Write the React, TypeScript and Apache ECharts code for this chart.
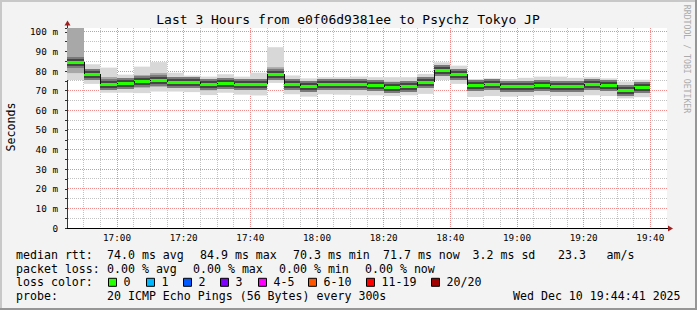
import React, { useEffect, useRef } from "react";
import * as echarts from "echarts";

// ---------- data ----------
const title = "Last 3 Hours from e0f06d9381ee to Psychz Tokyo JP";
const yAxisName = "Seconds";
const watermark = "RRDTOOL / TOBI OETIKER";
const timeRange = ["16:45", "19:45"];
const binStep = 5; // minutes per probe round (300 s)
const yMax = 102;

const binTimes = [
  "16:45", "16:50", "16:55",
  "17:00", "17:05", "17:10", "17:15", "17:20", "17:25", "17:30", "17:35", "17:40", "17:45", "17:50", "17:55",
  "18:00", "18:05", "18:10", "18:15", "18:20", "18:25", "18:30", "18:35", "18:40", "18:45", "18:50", "18:55",
  "19:00", "19:05", "19:10", "19:15", "19:20", "19:25", "19:30", "19:35",
];

const medianRtt = [
  84.9, 78.4, 73.5, 73.8, 75.0, 75.5, 74.6, 74.5, 73.2, 74.2, 73.3, 73.2,
  78.6, 73.5, 72.3, 73.3, 73.3, 73.3, 72.8, 72.0, 72.6, 74.4, 80.6, 78.6,
  72.8, 73.3, 72.3, 72.3, 72.8, 72.5, 72.5, 73.3, 72.8, 70.3, 71.7,
];
const smokeMax = [
  103, 83.5, 81.8, 78.2, 82.3, 84.6, 79.2, 77.7, 77.2, 78.4, 77.2, 79.2,
  92.2, 77.8, 76.3, 76.9, 76.9, 77.2, 76.9, 76.9, 76.9, 78.6, 84.5, 82.8,
  76.0, 76.3, 76.0, 76.6, 77.2, 77.2, 76.6, 76.9, 76.3, 74.7, 75.6,
];
const smokeUpper = [
  103, 81.0, 77.0, 76.0, 78.0, 79.0, 77.0, 76.0, 75.5, 76.5, 75.5, 76.0,
  82.0, 76.0, 74.6, 75.3, 75.3, 75.3, 75.0, 74.6, 74.8, 76.6, 82.6, 80.8,
  74.8, 75.2, 74.5, 74.6, 75.0, 74.8, 74.6, 75.3, 74.8, 72.6, 73.8,
];
const smokeLower = [
  79.0, 76.0, 71.0, 71.5, 71.5, 72.0, 72.0, 71.8, 70.2, 71.5, 70.5, 70.5,
  76.0, 71.0, 69.8, 70.6, 70.6, 70.5, 70.2, 69.6, 70.2, 71.6, 77.8, 75.8,
  70.0, 70.5, 69.6, 69.6, 70.2, 69.8, 69.8, 70.6, 70.2, 67.8, 69.2,
];
const smokeMin = [
  75.5, 73.5, 69.0, 69.0, 68.8, 69.6, 69.6, 69.3, 67.8, 69.0, 68.0, 67.6,
  74.0, 68.2, 67.0, 68.2, 68.0, 67.7, 67.7, 67.3, 67.7, 68.4, 75.5, 73.5,
  66.8, 67.3, 67.0, 67.3, 67.7, 67.3, 67.3, 67.7, 67.3, 66.1, 66.7,
];

const xTickLabels = ["17:00", "17:20", "17:40", "18:00", "18:20", "18:40", "19:00", "19:20", "19:40"];
const yTickLabels = ["0", "10 m", "20 m", "30 m", "40 m", "50 m", "60 m", "70 m", "80 m", "90 m", "100 m"];

const rttLabel = "median rtt:";
const rttStats = ["74.0 ms avg", "84.9 ms max", "70.3 ms min", "71.7 ms now", "3.2 ms sd", "23.3", "am/s"];
const lossLabel = "packet loss:";
const lossStats = ["0.00 % avg", "0.00 % max", "0.00 % min", "0.00 % now"];
const colorLabel = "loss color:";
const lossLabels = ["0", "1", "2", "3", "4-5", "6-10", "11-19", "20/20"];
const lossColors = ["#26ff00", "#00b8ff", "#0059ff", "#7e00ff", "#ff00ff", "#ff5500", "#ff0000", "#a10000"];
const probeLabel = "probe:";
const probeText = "20 ICMP Echo Pings (56 Bytes) every 300s";
const stampText = "Wed Dec 10 19:44:41 2025";

// ---------- layout ----------
const W = 697;
const H = 310;
const GL = 67;
const GT = 28;
const GW = 600;
const GH = 200;
const MONO = "DejaVu Sans Mono";
const LEG_FS = 11.6;
const LEG_CW = LEG_FS * 0.602;
const rttStatX = [107, 200, 293, 383, 472.5, 558, 606.5];
const lossStatX = [107, 193, 279, 365];
const lossBoxX = [108, 146, 183, 220, 258, 308, 366, 431];
const rowY = [255, 268.5, 282.3, 295.8];
const MINOR = "#c2c2c2";
const MAJOR = "#f08c8c";

const toMin = (s: string) => {
  const [h, m] = s.split(":").map(Number);
  return h * 60 + m;
};
const fmt = (v: number) => {
  const h = Math.floor(v / 60);
  const m = Math.round(v - h * 60);
  return `${h}:${m < 10 ? "0" + m : m}`;
};

function words(text: string, x: number, y: number, fill = "#000") {
  const out: any[] = [];
  const re = /\S+/g;
  let m: RegExpExecArray | null;
  while ((m = re.exec(text))) {
    out.push({
      type: "text",
      x: x + m.index * LEG_CW,
      y,
      silent: true,
      style: { text: m[0], fontFamily: MONO, fontSize: LEG_FS, fill, verticalAlign: "middle", align: "left" },
    });
  }
  return out;
}

function buildGraphic() {
  const g: any[] = [];
  // bevel border
  g.push({ type: "rect", shape: { x: 0, y: 0, width: W, height: 2 }, style: { fill: "#c8c8c8" }, silent: true });
  g.push({ type: "rect", shape: { x: 0, y: 0, width: 2, height: H }, style: { fill: "#c8c8c8" }, silent: true });
  g.push({ type: "rect", shape: { x: 0, y: H - 2, width: W, height: 2 }, style: { fill: "#969696" }, silent: true });
  g.push({ type: "rect", shape: { x: W - 2, y: 0, width: 2, height: H }, style: { fill: "#969696" }, silent: true });
  // title
  g.push({
    type: "text", x: 348, y: 19, silent: true,
    style: { text: title, fontFamily: MONO, fontSize: 13, fill: "#000", align: "center", verticalAlign: "middle" },
  });
  // y axis name
  g.push({
    type: "text", x: 11, y: 127, rotation: Math.PI / 2, silent: true,
    style: { text: yAxisName, fontFamily: MONO, fontSize: LEG_FS, fill: "#000", align: "center", verticalAlign: "middle" },
  });
  // watermark
  g.push({
    type: "text", x: 687, y: 59, rotation: -Math.PI / 2, silent: true,
    style: { text: watermark, fontFamily: MONO, fontSize: 8.2, fill: "#ababab", align: "center", verticalAlign: "middle" },
  });
  // axis arrows
  g.push({ type: "line", shape: { x1: GL + 0.5, y1: GT, x2: GL + 0.5, y2: GT - 3 }, style: { stroke: "#333", lineWidth: 1 }, silent: true });
  g.push({ type: "polygon", shape: { points: [[GL + 0.5, GT - 7.5], [GL - 2.5, GT - 2.5], [GL + 3.5, GT - 2.5]] }, style: { fill: "#a02020" }, silent: true });
  g.push({ type: "line", shape: { x1: GL + GW, y1: GT + GH + 0.5, x2: GL + GW + 2, y2: GT + GH + 0.5 }, style: { stroke: "#000", lineWidth: 1 }, silent: true });
  g.push({ type: "polygon", shape: { points: [[GL + GW + 1, GT + GH - 2.5], [GL + GW + 1, GT + GH + 3.5], [GL + GW + 6, GT + GH + 0.5]] }, style: { fill: "#a02020" }, silent: true });

  // legend row 1
  g.push(...words(rttLabel, 16, rowY[0]));
  rttStats.forEach((s, i) => g.push(...words(s, rttStatX[i], rowY[0])));
  // row 2
  g.push(...words(lossLabel, 16, rowY[1]));
  lossStats.forEach((s, i) => g.push(...words(s, lossStatX[i], rowY[1])));
  // row 3
  g.push(...words(colorLabel, 16, rowY[2]));
  lossLabels.forEach((s, i) => {
    g.push({
      type: "rect", silent: true,
      shape: { x: lossBoxX[i] + 0.5, y: rowY[2] - 4, width: 8, height: 8 },
      style: { fill: lossColors[i], stroke: "#000", lineWidth: 1 },
    });
    g.push(...words(s, lossBoxX[i] + 15.5, rowY[2]));
  });
  // row 4
  g.push(...words(probeLabel, 16, rowY[3]));
  g.push(...words(probeText, 107, rowY[3]));
  g.push(...words(stampText, 513, rowY[3]));
  return g;
}

const smokeData = binTimes.map((t, i) => [
  toMin(t),
  smokeMax[i],
  smokeUpper[i],
  medianRtt[i],
  smokeLower[i],
  smokeMin[i],
  i > 0 ? medianRtt[i - 1] : medianRtt[i],
]);

// dotted rrdtool-style grid, positioned through the axis scales
function renderGrid(params: any, api: any) {
  const cs = params.coordSys;
  const x0 = cs.x;
  const x1 = cs.x + cs.width;
  const y0 = cs.y;
  const y1 = cs.y + cs.height;
  const t0 = toMin(timeRange[0]);
  const children: any[] = [];
  const vTimes = binTimes.slice(1).concat([xTickLabels[xTickLabels.length - 1]]);
  const line = (a: number, b: number, c: number, d: number, stroke: string) => ({
    type: "line",
    shape: { x1: a, y1: b, x2: c, y2: d },
    style: { stroke, lineWidth: 1, lineDash: [1, 1] },
  });
  // minor first, major on top
  [false, true].forEach((wantMajor) => {
    for (let v = 5; v <= 100; v += 5) {
      const major = v % 10 === 0;
      if (major !== wantMajor) continue;
      const py = Math.floor(api.coord([t0, v])[1]) + 0.5;
      children.push(line(x0 + 1, py, x1, py, major ? MAJOR : MINOR));
    }
    vTimes.forEach((t) => {
      const major = xTickLabels.includes(t);
      if (major !== wantMajor) return;
      const px = Math.floor(api.coord([toMin(t), 0])[0]) + 0.5;
      children.push(line(px, y0, px, y1, major ? MAJOR : MINOR));
    });
  });
  return { type: "group", children };
}

function renderSmoke(params: any, api: any) {
  const cs = params.coordSys;
  const top = cs.y;
  const bot = cs.y + cs.height;
  const t = api.value(0) as number;
  const xa = Math.round(api.coord([t, 0])[0]);
  const xb = Math.round(api.coord([t + binStep, 0])[0]);
  const w = xb - xa;
  const py = (v: number) => Math.min(bot, Math.max(top, api.coord([t, v])[1]));
  const rect = (y1: number, y2: number, fill: string) => ({
    type: "rect",
    shape: { x: xa, y: Math.min(y1, y2), width: w, height: Math.abs(y2 - y1) },
    style: { fill },
  });
  const ym = Math.round(py(api.value(3)));
  const yp = Math.round(py(api.value(6)));
  return {
    type: "group",
    children: [
      rect(py(api.value(1)), py(api.value(5)), "#d8d8d8"),
      rect(py(api.value(2)), py(api.value(4)), "#a8a8a8"),
      rect(Math.max(top, ym - 5), ym + 6, "#7a7a7a"),
      rect(Math.max(top, ym - 3), ym + 4, "#454545"),
      rect(ym - 1, ym + 2, "#26ff00"),
      { type: "line", shape: { x1: xa + 0.5, y1: yp, x2: xa + 0.5, y2: ym }, style: { stroke: "#111", lineWidth: 1 } },
    ],
  };
}

export default function App() {
  const ref = useRef<HTMLDivElement>(null);
  useEffect(() => {
    const chart = echarts.init(ref.current!, null, { renderer: "svg" });
    chart.setOption({
      animation: false,
      backgroundColor: "#f3f3f3",
      grid: {
        left: GL, top: GT, width: GW, height: GH,
        show: true, backgroundColor: "#ffffff", borderWidth: 0,
        outerBoundsMode: "none", containLabel: false,
      },
      xAxis: {
        type: "value",
        min: toMin(timeRange[0]),
        max: toMin(timeRange[1]),
        interval: binStep,
        axisLine: { show: true, onZero: false, lineStyle: { color: "#000", width: 1 } },
        axisTick: { show: false },
        axisLabel: {
          margin: 5,
          color: "#000",
          fontFamily: MONO,
          fontSize: 9.3,
          formatter: (v: number) => {
            const s = fmt(v);
            return xTickLabels.includes(s) ? s : "";
          },
        },
        splitLine: { show: false },
      },
      yAxis: {
        type: "value",
        min: 0,
        max: yMax,
        interval: 5,
        axisLine: { show: true, lineStyle: { color: "#333", width: 1 } },
        axisTick: { show: true, length: 2, lineStyle: { color: "#333" } },
        axisLabel: {
          margin: 9,
          color: "#000",
          fontFamily: MONO,
          fontSize: 9.3,
          formatter: (v: number) => (v % 10 === 0 ? yTickLabels[v / 10] ?? "" : ""),
        },
        splitLine: { show: false },
      },
      series: [
        {
          type: "custom",
          name: "grid",
          data: [[toMin(timeRange[0]), 0]],
          renderItem: renderGrid,
          encode: { x: 0, y: 1 },
          silent: true,
          z: 1,
        },
        {
          type: "custom",
          name: "smoke",
          data: smokeData,
          renderItem: renderSmoke,
          encode: { x: 0, y: [1, 5] },
          silent: true,
          clip: true,
          z: 2,
        },
      ],
      graphic: buildGraphic(),
    });
    return () => chart.dispose();
  }, []);
  return <div ref={ref} style={{ position: "absolute", left: 0, top: 0, width: W, height: H }} />;
}
